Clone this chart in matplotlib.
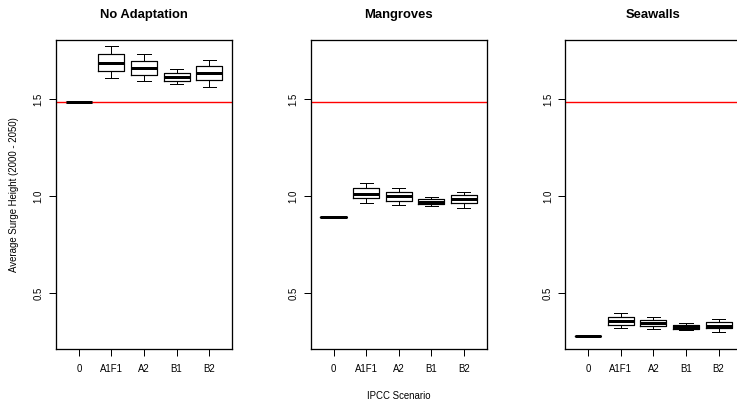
import matplotlib
matplotlib.use("Agg")
import matplotlib.pyplot as plt

plt.rcParams['font.family'] = ['Liberation Sans', 'DejaVu Sans']

scenarios = ["0", "A1F1", "A2", "B1", "B2"]
panel_titles = ["No Adaptation", "Mangroves", "Seawalls"]
baseline_red = 1.486

# whisker low, Q1, median, Q3, whisker high per scenario
no_adapt_low  = [1.486, 1.609, 1.594, 1.578, 1.566]
no_adapt_q1   = [1.486, 1.648, 1.628, 1.595, 1.600]
no_adapt_med  = [1.486, 1.689, 1.662, 1.617, 1.635]
no_adapt_q3   = [1.486, 1.732, 1.696, 1.638, 1.671]
no_adapt_high = [1.486, 1.775, 1.732, 1.658, 1.703]

mangr_low  = [0.894, 0.968, 0.957, 0.949, 0.940]
mangr_q1   = [0.894, 0.992, 0.978, 0.961, 0.964]
mangr_med  = [0.894, 1.015, 1.002, 0.973, 0.987]
mangr_q3   = [0.894, 1.041, 1.022, 0.985, 1.009]
mangr_high = [0.894, 1.067, 1.041, 0.995, 1.024]

seaw_low  = [0.279, 0.320, 0.315, 0.311, 0.304]
seaw_q1   = [0.279, 0.339, 0.332, 0.318, 0.320]
seaw_med  = [0.279, 0.358, 0.349, 0.328, 0.335]
seaw_q3   = [0.279, 0.377, 0.363, 0.337, 0.351]
seaw_high = [0.279, 0.400, 0.380, 0.346, 0.366]

panels = [
    (no_adapt_low, no_adapt_q1, no_adapt_med, no_adapt_q3, no_adapt_high),
    (mangr_low, mangr_q1, mangr_med, mangr_q3, mangr_high),
    (seaw_low, seaw_q1, seaw_med, seaw_q3, seaw_high),
]

W, H = 737, 403
fig = plt.figure(figsize=(W / 100, H / 100), dpi=100)

lefts = [56, 310.7, 565.4]
top_px, bot_px, width_px = 40, 349, 176

px = 0.72  # one pixel in points
for i, (left, title, data) in enumerate(zip(lefts, panel_titles, panels)):
    ax = fig.add_axes([left / W, 1 - bot_px / H, width_px / W, (bot_px - top_px) / H])
    lo, q1, med, q3, hi = data
    stats = []
    for j in range(len(scenarios)):
        stats.append(dict(whislo=lo[j], q1=q1[j], med=med[j], q3=q3[j],
                          whishi=hi[j], fliers=[], label=scenarios[j]))
    ax.bxp(stats, positions=range(1, 6), widths=0.8, showfliers=False,
           boxprops=dict(color='black', linewidth=px * 1.2),
           whiskerprops=dict(color='black', linewidth=px),
           capprops=dict(color='black', linewidth=px),
           medianprops=dict(color='black', linewidth=3 * px, solid_capstyle='butt'),
           capwidths=0.4)
    ax.axhline(baseline_red, color='red', linewidth=1.0)
    ax.set_xlim(0.3, 5.7)
    ax.set_ylim(0.214, 1.806)
    ax.set_yticks([0.5, 1.0, 1.5])
    ax.set_yticklabels(["0.5", "1.0", "1.5"], rotation=90, va='center')
    ax.set_xticks(range(1, 6))
    ax.set_xticklabels(scenarios)
    ax.tick_params(axis='both', labelsize=6.9, length=5, width=px, colors='black')
    ax.tick_params(axis='x', pad=6)
    ax.tick_params(axis='y', pad=4)
    for sp in ax.spines.values():
        sp.set_linewidth(px * 1.3)
        sp.set_color('black')
    ax.set_title(title, fontsize=9.4, fontweight='bold', y=1 + 25.3 / 309,
                 va='center', pad=0)
    if i == 0:
        ax.set_ylabel("Average Surge Height (2000 - 2050)", fontsize=6.9)
        ax.yaxis.set_label_coords(-42 / 176, 0.5)
        ax.yaxis.label.set_va('center')
    if i == 1:
        ax.set_xlabel("IPCC Scenario", fontsize=6.9)
        ax.xaxis.set_label_coords(0.5, -(395.7 - 349) / 309)
        ax.xaxis.label.set_va('center')

fig.savefig("out.png", dpi=100)
